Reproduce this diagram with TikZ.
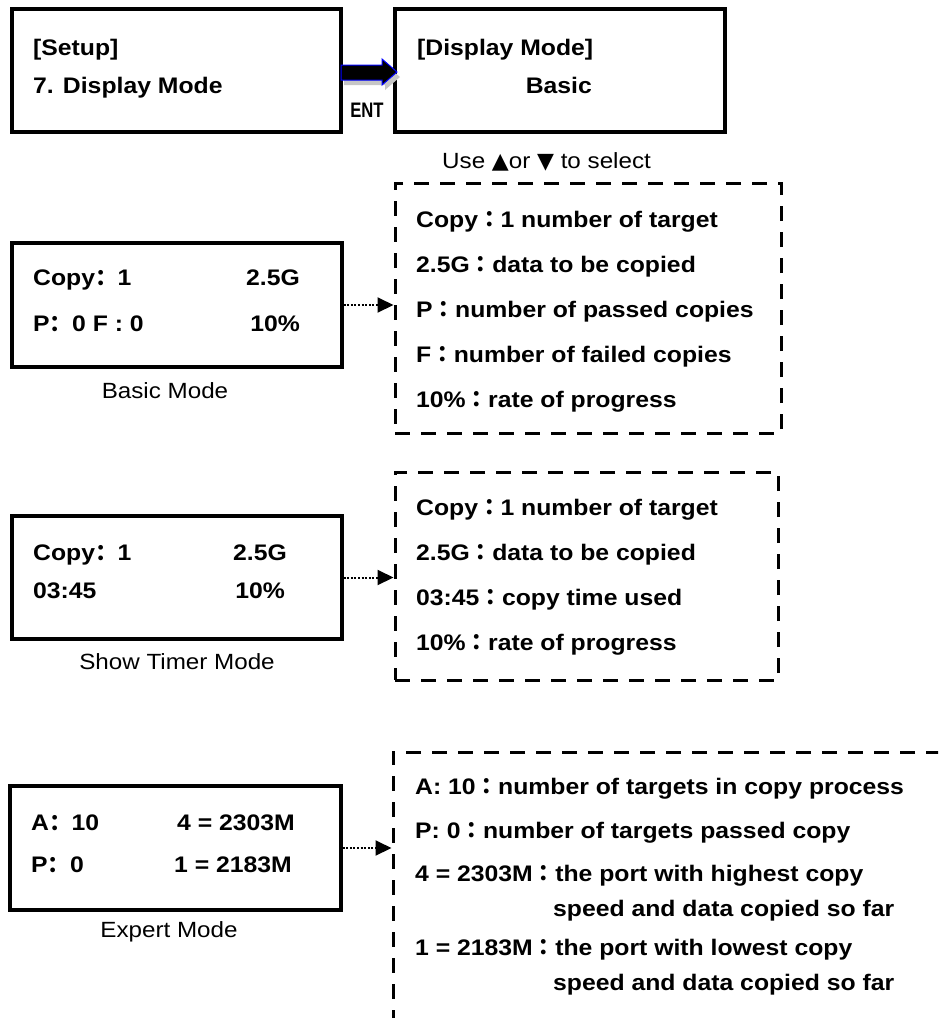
\documentclass[tikz,border=0pt]{standalone}
\usepackage{fontspec}
\setmainfont{Liberation Sans}[FakeStretch=1.1]
\newfontfamily\cjkSC{Noto Sans CJK SC}
\newfontfamily\cjkTC{Noto Sans CJK TC}
\newfontfamily\symfont{DejaVu Sans}
\usetikzlibrary{arrows.meta,calc}
\newcommand\lcolon{{\cjkSC\bfseries ：}}
\newcommand\ccolon{{\cjkTC\bfseries ：}}
\begin{document}
\begin{tikzpicture}[x=1pt,y=-1pt,
  sbox/.style={draw=black, line width=3.2pt, inner sep=0pt},
  dbox/.style={draw=black, line width=3pt, dash pattern=on 15pt off 11pt, inner sep=0pt},
  bt/.style={font=\fontsize{22.5}{27}\selectfont\bfseries, inner sep=0pt, anchor=base west},
  btr/.style={bt, anchor=base east},
  captxt/.style={font=\fontsize{22}{26}\selectfont, inner sep=0pt, anchor=base},
  link/.style={line width=2pt, dash pattern=on 2pt off 1.6pt, -{Triangle[length=16pt,width=15pt]}}]
\path[use as bounding box] (0,0) rectangle (938,1018);
\clip (0,0) rectangle (938,1018);

% solid boxes
\node[sbox, minimum width=329pt, minimum height=123pt] (setup) at (176.5,70.5) {};
\node[sbox, minimum width=330pt, minimum height=123pt] (dmode) at (560,70.5) {};
\node[sbox, minimum width=330pt, minimum height=124pt] (basic) at (177,305) {};
\node[sbox, minimum width=330pt, minimum height=123pt] (timer) at (177,577.5) {};
\node[sbox, minimum width=331pt, minimum height=124pt] (expert) at (175.5,848) {};

% dashed boxes
\node[dbox, minimum width=386pt, minimum height=250pt] (d1) at (588,308) {};
\node[dbox, minimum width=383pt, minimum height=208pt] (d2) at (586.5,576) {};
\node[dbox, minimum width=607pt, minimum height=348pt] (d3) at (696.5,926) {};

% ENT block arrow (shadow, then body)
\fill[gray!45] (344,70) -- (385,70) -- (385,64) -- (400,77) -- (385,90) -- (385,85) -- (344,85) -- cycle;
\filldraw[fill=black, draw=blue, line width=1pt] (341,65) -- (382,65) -- (382,59) -- (397,72) -- (382,85) -- (382,80) -- (341,80) -- cycle;
\node[font=\fontsize{21}{24}\selectfont\bfseries, inner sep=0pt, anchor=base] (ent) at (367,117) {\scalebox{0.72}[1]{ENT}};

% top boxes text
\node[bt] (s1) at (33,55) {[Setup]};
\node[bt] (s2) at (33,93) {7. Display Mode};
\node[bt] (m1) at (417,55) {[Display Mode]};
\node[btr] (m2) at (592,93) {Basic};
\node[captxt, anchor=base west] (use) at (442,168) {Use {\symfont ▲}or {\symfont ▼} to select};

% basic box
\node[bt] (b1) at (33,285) {Copy\lcolon 1};
\node[btr] (b2) at (300,285) {2.5G};
\node[bt] (b3) at (33,331) {P\lcolon 0 F : 0};
\node[btr] (b4) at (300,331) {10\%};
\node[captxt] (bcap) at (165,398) {Basic Mode};

% timer box
\node[bt] (t1) at (33,560) {Copy\lcolon 1};
\node[btr] (t2) at (287,560) {2.5G};
\node[bt] (t3) at (33,598) {03:45};
\node[btr] (t4) at (285,598) {10\%};
\node[captxt] (tcap) at (177,669) {Show Timer Mode};

% expert box
\node[bt] (e1) at (31,830) {A\lcolon 10};
\node[btr] (e2) at (295,830) {4 = 2303M};
\node[bt] (e3) at (31,872) {P\lcolon 0};
\node[btr] (e4) at (292,872) {1 = 2183M};
\node[captxt] (ecap) at (169,937) {Expert Mode};

% dashed box 1
\node[bt] (da1) at (416,227) {Copy\ccolon 1 number of target};
\node[bt] (da2) at (416,272) {2.5G\ccolon data to be copied};
\node[bt] (da3) at (416,317) {P\ccolon number of passed copies};
\node[bt] (da4) at (416,362) {F\ccolon number of failed copies};
\node[bt] (da5) at (416,407) {10\%\ccolon rate of progress};

% dashed box 2
\node[bt] (db1) at (416,515) {Copy\ccolon 1 number of target};
\node[bt] (db2) at (416,560) {2.5G\ccolon data to be copied};
\node[bt] (db3) at (416,605) {03:45\ccolon copy time used};
\node[bt] (db4) at (416,650) {10\%\ccolon rate of progress};

% dashed box 3
\node[bt] (dc1) at (415,794) {A: 10\ccolon number of targets in copy process};
\node[bt] (dc2) at (415,838) {P: 0\ccolon number of targets passed copy};
\node[bt] (dc3) at (415,881) {4 = 2303M\ccolon the port with highest copy};
\node[bt] (dc4) at (553,916) {speed and data copied so far};
\node[bt] (dc5) at (415,955) {1 = 2183M\ccolon the port with lowest copy};
\node[bt] (dc6) at (553,990) {speed and data copied so far};

% dotted connectors
\draw[link] (basic.east) -- (basic.east -| d1.west);
\draw[link] (timer.east) -- (timer.east -| d2.west);
\draw[link] (expert.east) -- (expert.east -| d3.west);
\end{tikzpicture}
\end{document}
